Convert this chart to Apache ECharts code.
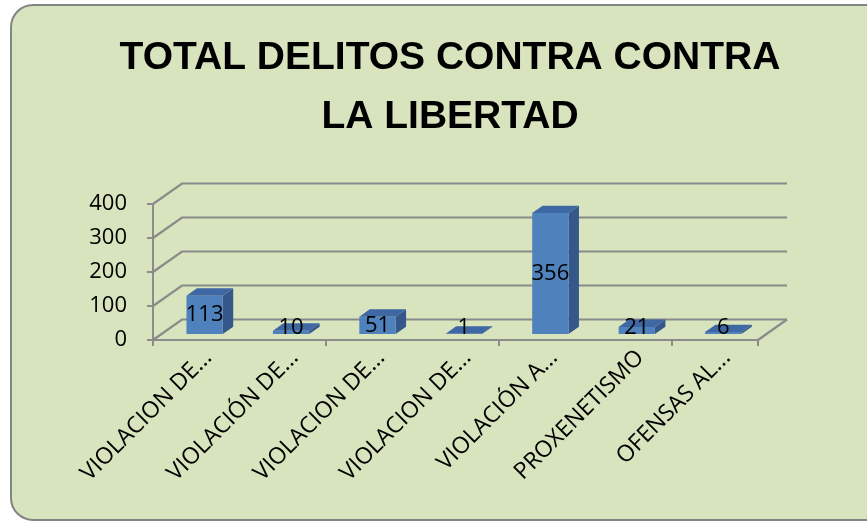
<!DOCTYPE html>
<html>
<head>
<meta charset="utf-8">
<title>Total delitos contra la libertad</title>
<script src="https://cdn.jsdelivr.net/npm/echarts@6/dist/echarts.min.js"></script>
<style>
  html, body { margin: 0; padding: 0; background: #fff; }
  #chart { width: 867px; height: 522px; }
</style>
</head>
<body>
<div id="chart"></div>
<script>
  // datos
  const categories = ['VIOLACION DE...', 'VIOLACIÓN DE...', 'VIOLACION DE...', 'VIOLACION DE...', 'VIOLACIÓN A...', 'PROXENETISMO', 'OFENSAS AL...'];
  const values = [113, 10, 51, 1, 356, 21, 6];
  const yTicks = [0, 100, 200, 300, 400];

  // profundidad del efecto 3D (px)
  const DX = 29, DY = 20.5;
  const FRONT = 0.29;   // donde empieza la barra dentro del fondo
  const DEPTH = 0.36;   // profundidad de la barra
  const BAR_W = 0.42;   // ancho relativo a la categoria

  const txtFont = '"Open Sans", "Liberation Sans", sans-serif';

  function bandEdges(api, v) {
    const band = api.size([1, 0])[0];
    const left = api.coord([0, v])[0] - band / 2;
    const right = api.coord([categories.length - 1, v])[0] + band / 2;
    return [left, right];
  }

  const chart = echarts.init(document.getElementById('chart'));

  const option = {
    backgroundColor: '#ffffff',
    animation: false,
    graphic: [{
      type: 'rect',
      z: -10,
      shape: { x: 11, y: 5, width: 880, height: 515, r: 22 },
      style: { fill: '#D7E4BD', stroke: '#848484', lineWidth: 2 }
    }],
    title: {
      text: 'TOTAL DELITOS CONTRA CONTRA\nLA LIBERTAD',
      left: 445,
      top: 24,
      textAlign: 'center',
      textStyle: {
        fontFamily: '"Liberation Sans", Arial, sans-serif',
        fontWeight: 'bold',
        fontSize: 39,
        lineHeight: 59,
        color: '#000'
      }
    },
    grid: { left: 153, right: 109, top: 204, bottom: 182 },
    xAxis: {
      type: 'category',
      data: categories,
      boundaryGap: true,
      axisLine: { show: true, lineStyle: { color: '#8C8C8C', width: 2 } },
      axisTick: { show: true, length: 6, lineStyle: { color: '#8C8C8C', width: 2 } },
      axisLabel: { show: false },
      splitLine: { show: false }
    },
    yAxis: {
      type: 'value',
      min: 0,
      max: 400,
      interval: 100,
      axisLine: { show: true, lineStyle: { color: '#8C8C8C', width: 2 } },
      axisTick: { show: true, length: 6, lineStyle: { color: '#8C8C8C', width: 2 } },
      axisLabel: { margin: 26, fontSize: 22, color: '#000', fontFamily: txtFont, padding: [6, 0, 0, 0] },
      splitLine: { show: false }
    },
    series: [
      {
        // pared del fondo y suelo
        type: 'custom',
        z: 1,
        silent: true,
        data: yTicks.map(v => [0, v]),
        renderItem: function (params, api) {
          const v = api.value(1);
          const e = bandEdges(api, v);
          const y = api.coord([0, v])[1];
          const st = { stroke: '#8A8A8A', lineWidth: 2.2, fill: null };
          const kids = [{
            type: 'polyline',
            shape: { points: [[e[0], y], [e[0] + DX, y - DY], [e[1] + DX, y - DY]] },
            style: st
          }];
          if (v === 0) {
            kids.push({
              type: 'line',
              shape: { x1: e[1], y1: y, x2: e[1] + DX, y2: y - DY },
              style: st
            });
          }
          return { type: 'group', children: kids };
        }
      },
      {
        // barras 3D
        type: 'custom',
        z: 3,
        data: values.map((v, i) => [i, v]),
        renderItem: function (params, api) {
          const i = api.value(0);
          const v = api.value(1);
          const band = api.size([1, 0])[0];
          const base = api.coord([i, 0]);
          const top = api.coord([i, v]);
          const w = band * BAR_W;
          const fx = DX * FRONT, fy = DY * FRONT;
          const dx = DX * DEPTH, dy = DY * DEPTH;
          const xl = base[0] + fx - w / 2;
          const xr = xl + w;
          const yb = base[1] - fy;
          const yt = top[1] - fy;
          return {
            type: 'group',
            children: [
              {
                type: 'polygon',
                shape: { points: [[xr, yt], [xr + dx, yt - dy], [xr + dx, yb - dy], [xr, yb]] },
                style: { fill: '#35578A' }
              },
              {
                type: 'polygon',
                shape: { points: [[xl, yt], [xl + dx, yt - dy], [xr + dx, yt - dy], [xr, yt]] },
                style: { fill: '#3E68A3' }
              },
              {
                type: 'rect',
                shape: { x: xl, y: yt, width: w, height: yb - yt },
                style: { fill: '#4F81BD' }
              },
              {
                type: 'text',
                x: base[0] + fx,
                y: Math.min((yt + yb) / 2, yb - 6),
                style: {
                  text: String(v),
                  align: 'center',
                  verticalAlign: 'middle',
                  fontSize: 22,
                  fontFamily: txtFont,
                  fill: '#000'
                }
              }
            ]
          };
        }
      },
      {
        // etiquetas del eje X (rotadas como en Excel)
        type: 'custom',
        z: 3,
        silent: true,
        data: categories.map((c, i) => [i, 0]),
        renderItem: function (params, api) {
          const p = api.coord([api.value(0), 0]);
          return {
            type: 'text',
            x: p[0] + 12,
            y: p[1] + 14,
            rotation: Math.PI / 4,
            style: {
              text: categories[params.dataIndex],
              align: 'right',
              verticalAlign: 'middle',
              fontSize: 23,
              fontFamily: txtFont,
              fill: '#000'
            }
          };
        }
      }
    ]
  };

  chart.setOption(option);
  window.onresize = function () {
    chart.resize();
  };
</script>
</body>
</html>
